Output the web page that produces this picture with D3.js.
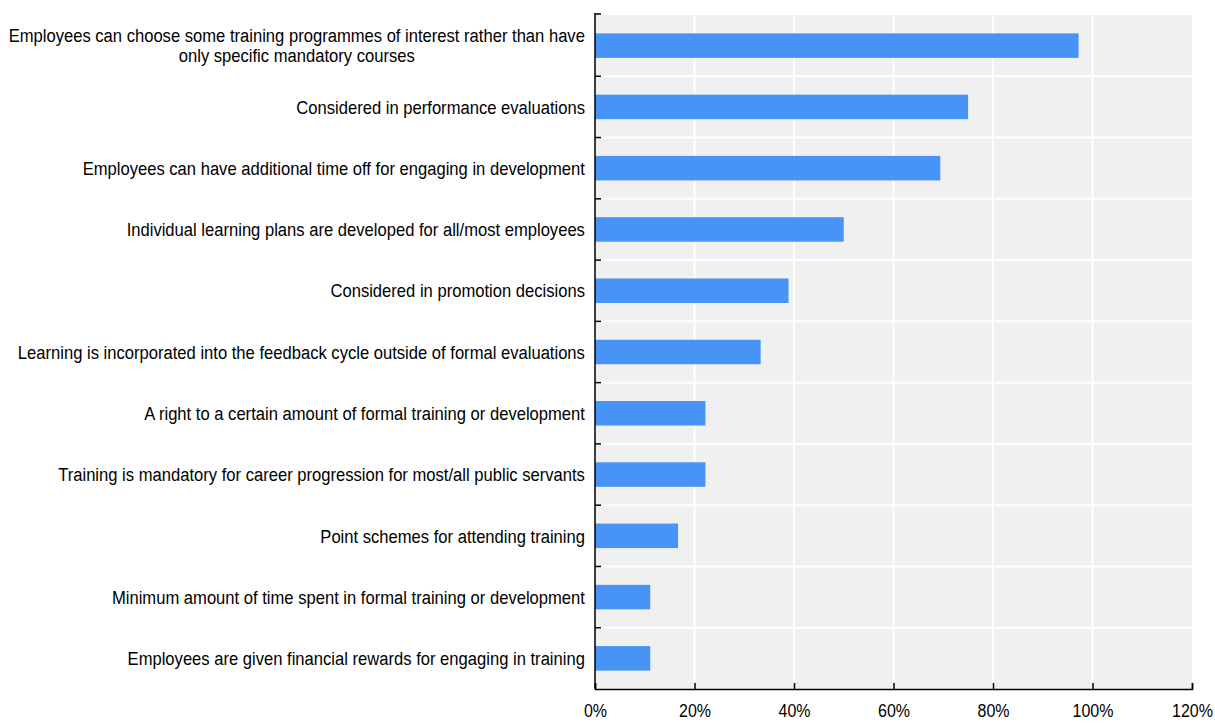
<!DOCTYPE html>
<html><head><meta charset="utf-8">
<script src="https://cdn.jsdelivr.net/npm/d3@7"></script>
<style>body{margin:0;background:#fff}svg{display:block}text{font-family:"Liberation Sans",Arial,sans-serif;fill:#000}</style>
</head><body><svg id="c" width="1215" height="723"></svg>
<script>
const categories = [
  ["Employees can choose some training programmes of interest rather than have", "only specific mandatory courses"],
  ["Considered in performance evaluations"],
  ["Employees can have additional time off for engaging in development"],
  ["Individual learning plans are developed for all/most employees"],
  ["Considered in promotion decisions"],
  ["Learning is incorporated into the feedback cycle outside of formal evaluations"],
  ["A right to a certain amount of formal training or development"],
  ["Training is mandatory for career progression for most/all public servants"],
  ["Point schemes for attending training"],
  ["Minimum amount of time spent in formal training or development"],
  ["Employees are given financial rewards for engaging in training"]
];
const values = [97.2, 75.0, 69.4, 50.0, 38.9, 33.3, 22.2, 22.2, 16.7, 11.1, 11.1];
const xTicks = [0, 20, 40, 60, 80, 100, 120];

const svg = d3.select("#c");
const L = 595, R = 1192, T = 15, B = 689;
const SY = 1.15;
const x = d3.scaleLinear().domain([0, 120]).range([L, R]);
const idx = d3.range(categories.length);
const y = d3.scaleBand().domain(idx).range([T, B]).paddingInner(0.6).paddingOuter(0.3);
const yb = d3.scaleBand().domain(idx).range([T, B]);

svg.append("rect").attr("x", L).attr("y", T).attr("width", R - L).attr("height", B - T).attr("fill", "#f0f0f0");
// vertical gridlines
svg.append("g").selectAll("line").data(xTicks.filter(d => d > 0 && d < 120)).join("line")
  .attr("x1", d => x(d)).attr("x2", d => x(d)).attr("y1", T).attr("y2", B)
  .attr("stroke", "#fff").attr("stroke-width", 2);
// horizontal gridlines
svg.append("g").selectAll("line").data(idx.slice(1)).join("line")
  .attr("x1", L).attr("x2", R).attr("y1", d => yb(d)).attr("y2", d => yb(d))
  .attr("stroke", "#fff").attr("stroke-width", 2);

// bars
svg.append("g").selectAll("rect").data(values).join("rect")
  .attr("x", x(0)).attr("y", (d, i) => y(i)).attr("width", d => x(d) - x(0)).attr("height", y.bandwidth())
  .attr("fill", "#4794f6");

// bottom axis
const xa = svg.append("g").attr("transform", `translate(0,${B})`)
  .call(d3.axisBottom(x).tickValues(xTicks).tickFormat(d => d + "%").tickSize(-6));
xa.select(".domain").attr("stroke", "#000").attr("stroke-width", 1.5);
xa.selectAll(".tick line").attr("stroke", "#000").attr("stroke-width", 1.5);
xa.selectAll(".tick text").attr("font-size", 16).attr("font-family", "Liberation Sans, Arial, sans-serif")
  .attr("fill", "#000").attr("y", null).attr("dy", "0.35em")
  .attr("transform", `translate(0,22) scale(1,1.1)`);

// left axis line + ticks at band boundaries
const bounds = idx.map(i => yb(i));
svg.append("line").attr("x1", L).attr("x2", L).attr("y1", T - 2).attr("y2", B).attr("stroke", "#000").attr("stroke-width", 1.5);
svg.append("g").selectAll("line").data(bounds).join("line")
  .attr("x1", L).attr("x2", L + 6).attr("y1", d => d === T ? T - 1 : d).attr("y2", d => d === T ? T - 1 : d)
  .attr("stroke", "#000").attr("stroke-width", 1.5);

// labels
const lab = svg.append("g");
categories.forEach((lines, i) => {
  const cy = y(i) + y.bandwidth() / 2;
  const lh = 20;
  const g = lab.append("g");
  const ts = lines.map((s, j) => g.append("text").attr("font-size", 16.6)
    .attr("x", 0).attr("y", 0).attr("dy", "0.35em").text(s));
  const widths = ts.map(t => t.node().getComputedTextLength());
  const maxW = d3.max(widths);
  const center = 585 - maxW / 2;
  ts.forEach((t, j) => t.attr("text-anchor", "middle")
    .attr("transform", `translate(${center},${cy + (j - (lines.length - 1) / 2) * lh}) scale(1,${SY})`));
});
</script></body></html>
